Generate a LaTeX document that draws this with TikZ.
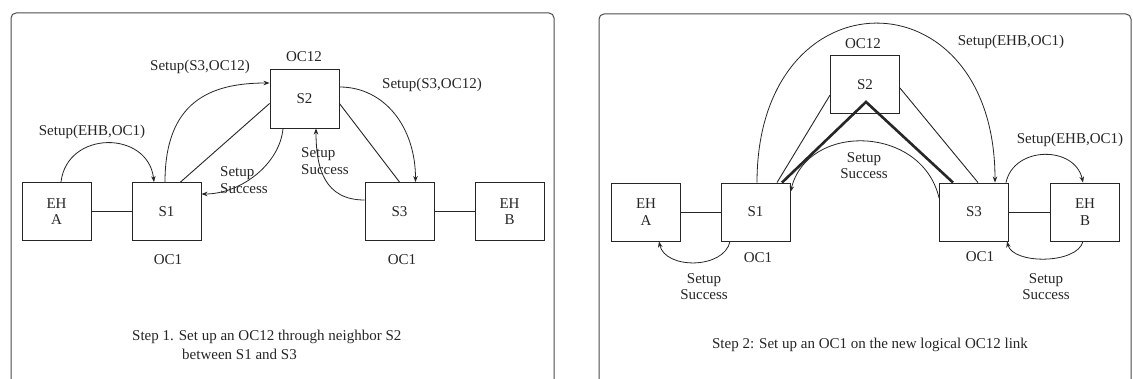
\documentclass[tikz,border=0pt]{standalone}
\usepackage{fontspec}
\setmainfont{Liberation Serif}
\usetikzlibrary{calc,arrows.meta}
\newcommand\lblfont{\fontsize{15}{16.5}\selectfont}
\begin{document}
\begin{tikzpicture}[x=1pt,y=-1pt,
  box/.style={draw=black!85,line width=0.9pt,minimum width=69pt,minimum height=58pt,inner sep=0pt,align=center,font=\lblfont,text=black!85},
  lbl/.style={inner sep=0pt,align=center,font=\lblfont,text=black!85},
  link/.style={draw=black!85,line width=0.9pt},
  thicklink/.style={draw=black!85,line width=2.6pt,line join=miter},
  msg/.style={draw=black!85,line width=0.8pt,-{Stealth[length=6pt,width=4.5pt]}},
  panel/.style={draw=black!70,line width=1pt,rounded corners=5pt}]
\useasboundingbox (0,0) rectangle (1133,379);
\clip (0,0) rectangle (1133,379);
\fill[white] (0,0) rectangle (1133,379);
\draw[panel] (11,13) rectangle (554,400);
\draw[panel] (599,14) rectangle (1131,400);

% ---------- left panel ----------
\node[box] (LEHA) at (56.5,211.5) {EH\\A};
\node[box] (LS1) at (166.5,211.5) {S1};
\node[box,minimum height=59pt] (LS2) at (304.5,98.5) {S2};
\node[box] (LS3) at (399.5,211.5) {S3};
\node[box] (LEHB) at (509.5,211.5) {EH\\B};

\node[lbl] (LOC12) at (304,57) {OC12};
\node[lbl] (LOC1a) at (168,260) {OC1};
\node[lbl] (LOC1b) at (402,260) {OC1};
\node[lbl] (LsetA) at (92,132) {Setup(EHB,OC1)};
\node[lbl] (LsetB) at (200,67) {Setup(S3,OC12)};
\node[lbl] (LsetC) at (432,85) {Setup(S3,OC12)};
\node[lbl,align=left,anchor=west] (LsucA) at (220,180) {Setup\\Success};
\node[lbl,align=left,anchor=west] (LsucB) at (301,161) {Setup\\Success};
\node[lbl,anchor=west] (Lcap1) at (132,337) {Step 1. Set up an OC12 through neighbor S2};
\node[lbl,anchor=west] (Lcap2) at (182,354) {between S1 and S3};

\draw[link] (LEHA.east) -- (LS1.west);
\draw[link] (LS3.east) -- (LEHB.west);
\draw[link] ($(LS1.north)+(14,0)$) -- ($(LS2.west)+(0,5)$);
\draw[link] ($(LS2.east)+(0,5)$) -- (LS3.north);

\draw[msg] ($(LEHA.north)+(4.5,0)$) .. controls +(6,-52) and +(-6,-52) .. ($(LS1.north)+(-12.5,0)$);
\draw[msg] ($(LS1.north)+(-1.5,0)$) .. controls +(0,-80) and +(-60,0) .. ($(LS2.west)+(0,-15.5)$);
\draw[msg] ($(LS2.east)+(0,-11.5)$) .. controls +(45,0) and +(0,-55) .. ($(LS3.north)+(16,0)$);
\draw[msg] ($(LS2.south)+(-21.5,0)$) .. controls +(-3,35) and +(40,0) .. ($(LS1.east)+(0,-17.5)$);
\draw[msg] ($(LS3.west)+(0,-11.5)$) .. controls +(-40,0) and +(0,40) .. ($(LS2.south)+(11.5,0)$);

% ---------- right panel ----------
\node[box] (REHA) at (646,212) {EH\\A};
\node[box] (RS1) at (755.5,212) {S1};
\node[box] (RS2) at (865,84.5) {S2};
\node[box] (RS3) at (974,212) {S3};
\node[box] (REHB) at (1085,212) {EH\\B};

\node[lbl] (ROC12) at (863,44) {OC12};
\node[lbl] (ROC1a) at (758,258) {OC1};
\node[lbl] (ROC1b) at (980,257) {OC1};
\node[lbl] (RsetA) at (1011,42) {Setup(EHB,OC1)};
\node[lbl] (RsetB) at (1070,140) {Setup(EHB,OC1)};
\node[lbl] (RsucA) at (864,165.5) {Setup\\Success};
\node[lbl] (RsucB) at (704,286.5) {Setup\\Success};
\node[lbl] (RsucC) at (1046,286.5) {Setup\\Success};
\node[lbl] (Rcap) at (870,345) {Step 2: Set up an OC1 on the new logical OC12 link};

\draw[link] (REHA.east) -- (RS1.west);
\draw[link] (RS3.east) -- (REHB.west);
\draw[link] ($(RS1.north)+(21.5,0)$) -- ($(RS2.west)+(0,10.5)$);
\draw[link] ($(RS2.east)+(0,3.5)$) -- ($(RS3.north)+(4,0)$);
\coordinate (Rapex) at ($(RS2.south)+(1,-12)$);
\draw[thicklink] ($(RS1.north)+(26.5,0)$) -- (Rapex) -- ($(RS3.north)+(-21,0)$);

\draw[msg] ($(RS1.north)+(1.5,0)$) .. controls +(0,-212) and +(0,-212) .. ($(RS3.north)+(21,0)$);
\draw[msg] ($(RS3.west)+(0,-14)$) .. controls +(-17,-73) and +(17,-70) .. ($(RS1.east)+(0,-20)$);
\draw[msg] ($(RS3.north)+(32,0)$) .. controls +(8,-37) and +(-8,-37) .. ($(REHB.north)+(-2,0)$);
\draw[msg] ($(REHB.south)+(-2,0)$) .. controls +(-6,23) and +(6,23) .. ($(RS3.south)+(33,0)$);
\draw[msg] ($(RS1.south)+(-25.5,0)$) .. controls +(-6,28) and +(6,28) .. ($(REHA.south)+(13,0)$);
\end{tikzpicture}
\end{document}
